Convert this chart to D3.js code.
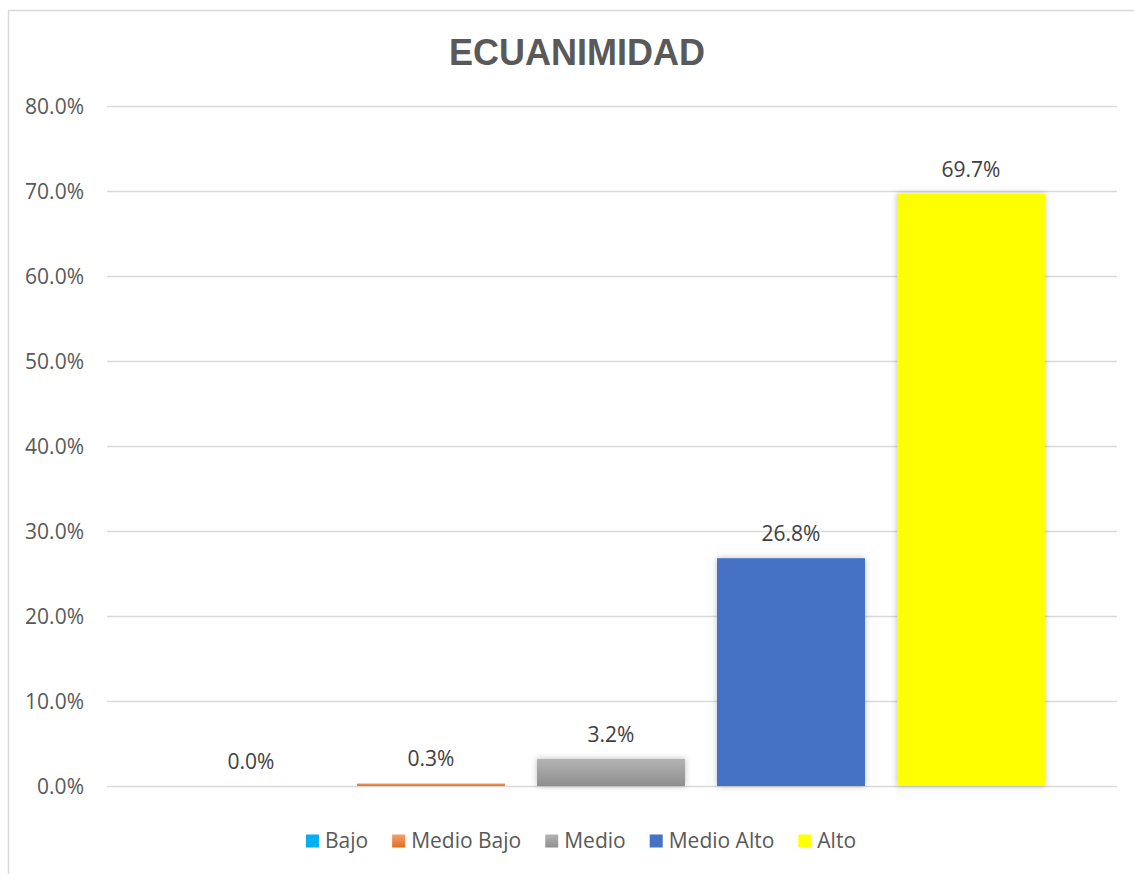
<!DOCTYPE html>
<html>
<head>
<meta charset="utf-8">
<script src="https://cdn.jsdelivr.net/npm/d3@7"></script>
<style>
  body { margin: 0; background: #fff; }
  svg { display: block; }
  .axis text { font-family: "Open Sans", sans-serif; font-size: 21px; fill: #595959; }
  .axis line { stroke: #d9d9d9; stroke-width: 1.3; }
  .value-label { font-family: "Open Sans", sans-serif; font-size: 21px; fill: #404040; }
  .legend-text { font-family: "Open Sans", sans-serif; font-size: 21px; fill: #595959; }
</style>
</head>
<body>
<div id="chart"></div>
<script>
// Data
const categories = ["Bajo", "Medio Bajo", "Medio", "Medio Alto", "Alto"];
const values = [0.0, 0.3, 3.2, 26.8, 69.7];
const yTicks = [0, 10, 20, 30, 40, 50, 60, 70, 80];
const barColors = ["#00b0f0", "url(#grad-orange)", "url(#grad-gray)", "#4472c4", "#ffff00"];

const W = 1134, H = 874;
const plot = { left: 107, right: 1117, top: 106, bottom: 786 };

const svg = d3.select("#chart").append("svg")
    .attr("width", W)
    .attr("height", H);

// gradients + soft shadow
const defs = svg.append("defs");
function addGradient(id, top, bottom) {
    const g = defs.append("linearGradient")
        .attr("id", id)
        .attr("x1", 0).attr("y1", 0).attr("x2", 0).attr("y2", 1);
    g.append("stop").attr("offset", "0%").attr("stop-color", top);
    g.append("stop").attr("offset", "100%").attr("stop-color", bottom);
}
addGradient("grad-orange", "#f4a070", "#e46c1e");
addGradient("grad-gray", "#b4b4b4", "#8e8e8e");

defs.append("filter")
    .attr("id", "glow")
    .attr("x", "-20%").attr("y", "-20%").attr("width", "140%").attr("height", "140%")
    .append("feDropShadow")
    .attr("dx", 0).attr("dy", 0)
    .attr("stdDeviation", 3)
    .attr("flood-color", "#000")
    .attr("flood-opacity", 0.25);

// chart border (left and top visible, rest clipped by the window)
svg.append("rect")
    .attr("x", 8.5).attr("y", 10.5)
    .attr("width", W + 20).attr("height", H + 20)
    .attr("fill", "none")
    .attr("stroke", "#d9d9d9")
    .attr("stroke-width", 1.5);

// Title
svg.append("text")
    .attr("x", 577)
    .attr("y", 65)
    .attr("text-anchor", "middle")
    .attr("font-family", "'Liberation Sans', Arial, sans-serif")
    .attr("font-weight", "bold")
    .attr("font-size", "36px")
    .attr("fill", "#595959")
    .text("ECUANIMIDAD");

// Scales
const y = d3.scaleLinear()
    .domain([0, 80])
    .range([plot.bottom, plot.top]);

const x = d3.scaleBand()
    .domain(categories)
    .range([161, 1061])
    .paddingInner(0.178)
    .paddingOuter(0.089);

// Y axis with gridlines
const yAxis = svg.append("g")
    .attr("class", "axis")
    .attr("transform", `translate(${plot.left},0)`)
    .call(d3.axisLeft(y)
        .tickValues(yTicks)
        .tickSize(-(plot.right - plot.left))
        .tickPadding(23)
        .tickFormat(d => d.toFixed(1) + "%"));
yAxis.select(".domain").remove();
yAxis.selectAll("text").attr("dy", "0.35em");

// Bars
svg.selectAll(".bar")
    .data(values)
    .enter()
    .append("rect")
    .attr("class", "bar")
    .attr("x", (d, i) => x(categories[i]))
    .attr("y", d => y(d))
    .attr("width", x.bandwidth())
    .attr("height", d => y(0) - y(d))
    .attr("fill", (d, i) => barColors[i])
    .attr("filter", d => d > 1 ? "url(#glow)" : null);

// value labels
svg.selectAll(".value-label")
    .data(values)
    .enter()
    .append("text")
    .attr("class", "value-label")
    .attr("x", (d, i) => x(categories[i]) + x.bandwidth() / 2)
    .attr("y", d => y(d) - 17)
    .attr("text-anchor", "middle")
    .text(d => d.toFixed(1) + "%");

// Legend
const legend = svg.append("g").attr("class", "legend");
const sq = 13, gapText = 6, gapItem = 24;
let lx = 0;
const items = categories.map((c, i) => {
    const g = legend.append("g");
    g.append("rect")
        .attr("x", 0).attr("y", -sq / 2)
        .attr("width", sq).attr("height", sq)
        .attr("fill", barColors[i]);
    const t = g.append("text")
        .attr("class", "legend-text")
        .attr("x", sq + gapText)
        .attr("dy", "0.35em")
        .text(c);
    const w = sq + gapText + t.node().getComputedTextLength();
    g.attr("transform", `translate(${lx},0)`);
    lx += w + gapItem;
    return g;
});
const legendWidth = lx - gapItem;
legend.attr("transform", `translate(${581 - legendWidth / 2},841)`);
</script>
</body>
</html>
